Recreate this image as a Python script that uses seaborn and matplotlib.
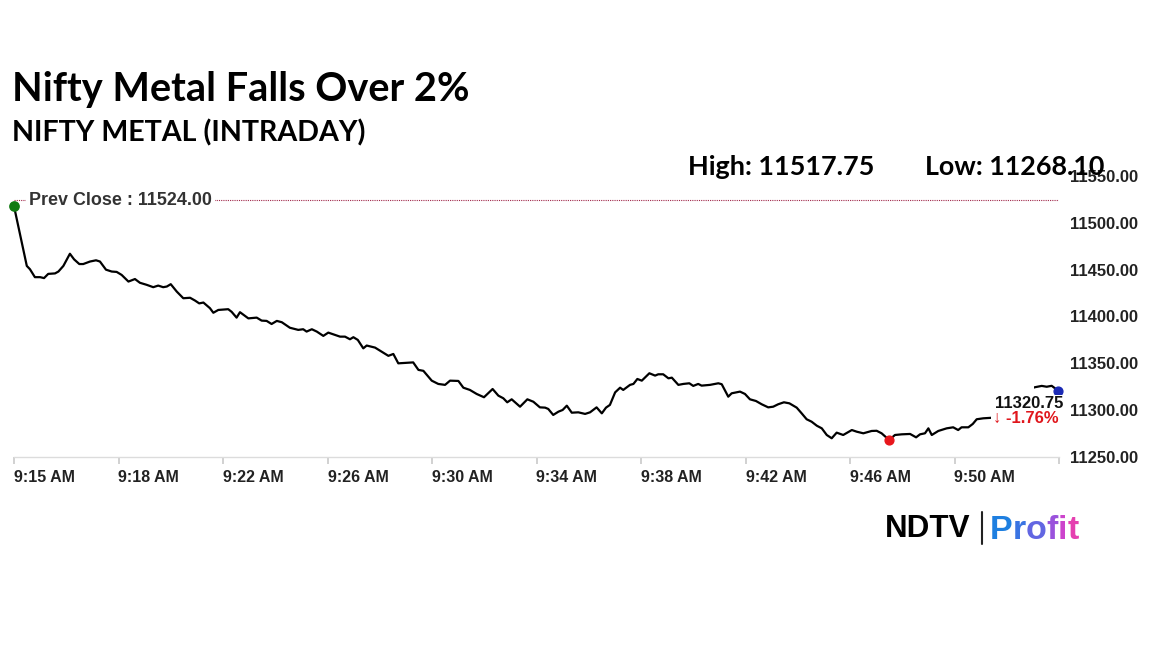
import matplotlib
matplotlib.use("Agg")
import matplotlib.pyplot as plt
import seaborn as sns
import pandas as pd
from matplotlib.patches import Rectangle
from matplotlib.transforms import IdentityTransform

# ---------------- data (minutes after 9:14 on a 4-minute tick grid) ----------------
times = [0.00, 0.49, 0.61, 0.80, 1.00, 1.15, 1.31, 1.57, 1.70, 1.89, 2.14, 2.30, 2.50, 2.65,
         2.91, 3.14, 3.29, 3.52, 3.74, 3.93, 4.12, 4.38, 4.63, 4.82, 5.08, 5.33, 5.52, 5.71,
         5.85, 6.00, 6.23, 6.48, 6.74, 6.93, 7.09, 7.25, 7.50, 7.63, 7.82, 8.20, 8.33, 8.52,
         8.65, 8.97, 9.29, 9.48, 9.67, 9.86, 10.06, 10.25, 10.56, 10.88, 11.07, 11.20, 11.40,
         11.59, 11.84, 12.03, 12.22, 12.48, 12.67, 12.86, 12.99, 13.16, 13.37, 13.50, 13.82,
         14.07, 14.33, 14.52, 14.71, 15.28, 15.48, 15.67, 15.99, 16.24, 16.50, 16.69, 17.01,
         17.20, 17.45, 17.71, 17.99, 18.32, 18.54, 18.73, 18.88, 19.05, 19.37, 19.65, 19.88,
         20.13, 20.33, 20.45, 20.64, 20.84, 21.00, 21.16, 21.35, 21.60, 21.86, 22.05, 22.30,
         22.50, 22.66, 22.81, 23.01, 23.20, 23.32, 23.58, 23.71, 23.86, 24.03, 24.32, 24.54,
         24.66, 24.85, 25.05, 25.18, 25.43, 25.62, 25.85, 26.00, 26.19, 26.32, 26.64, 26.96,
         27.09, 27.19, 27.34, 27.47, 27.79, 27.98, 28.17, 28.40, 28.62, 28.87, 29.06, 29.25,
         29.47, 29.68, 29.96, 30.15, 30.34, 30.53, 30.73, 30.92, 31.11, 31.30, 31.49, 31.74,
         32.07, 32.26, 32.51, 32.83, 33.02, 33.21, 33.50, 33.72, 33.98, 34.30, 34.53, 34.68,
         34.87, 35.00, 35.13, 35.38, 35.70, 35.95, 36.14, 36.27, 36.53, 36.70, 36.85, 37.10,
         37.49, 37.86, 38.32, 38.78, 39.08, 39.34, 39.53, 39.72, 39.97]
values = [11517.75, 11454.0, 11450.5, 11442.0, 11442.0, 11441.0, 11445.5, 11446.0, 11448.0,
          11454.0, 11467.0, 11461.0, 11456.0, 11456.0, 11458.7, 11460.0, 11458.7, 11450.0,
          11448.0, 11447.6, 11444.4, 11437.3, 11440.0, 11436.0, 11433.8, 11431.3, 11433.0,
          11431.3, 11432.0, 11434.5, 11426.6, 11419.5, 11420.0, 11417.0, 11414.0, 11414.9,
          11408.9, 11404.0, 11407.0, 11407.8, 11405.0, 11398.8, 11404.6, 11398.0, 11398.8,
          11395.6, 11395.3, 11392.0, 11395.3, 11393.9, 11388.0, 11385.7, 11386.4, 11383.9,
          11386.4, 11383.9, 11379.3, 11382.8, 11381.0, 11378.5, 11378.5, 11375.7, 11377.9,
          11375.0, 11366.0, 11369.0, 11366.8, 11362.5, 11358.0, 11360.0, 11350.0, 11351.0,
          11343.0, 11342.0, 11331.5, 11328.0, 11327.0, 11331.5, 11331.2, 11324.0, 11321.6,
          11317.3, 11313.8, 11322.6, 11315.5, 11312.7, 11308.4, 11311.6, 11303.7, 11311.6,
          11309.0, 11303.0, 11302.7, 11301.3, 11294.9, 11298.4, 11300.2, 11304.8, 11297.3,
          11297.7, 11296.0, 11297.7, 11303.0, 11296.6, 11302.7, 11305.6, 11319.0, 11324.0,
          11321.6, 11327.0, 11328.0, 11333.3, 11331.5, 11339.4, 11336.9, 11338.3, 11338.3,
          11334.0, 11334.7, 11327.0, 11328.0, 11328.7, 11325.9, 11328.0, 11326.2, 11327.0,
          11328.7, 11327.7, 11322.3, 11314.4, 11318.0, 11319.8, 11317.3, 11311.6, 11309.8,
          11306.3, 11303.0, 11303.7, 11306.3, 11308.4, 11307.3, 11302.7, 11296.6, 11290.3,
          11287.7, 11283.4, 11280.6, 11273.5, 11270.0, 11276.0, 11273.5, 11278.8, 11277.0,
          11275.3, 11277.8, 11278.0, 11275.3, 11268.10, 11273.5, 11274.2, 11274.6, 11271.0,
          11274.2, 11275.3, 11280.6, 11273.5, 11277.8, 11280.6, 11281.7, 11278.8, 11281.7,
          11281.7, 11285.3, 11290.3, 11291.3, 11292.0, 11302.0, 11314.0, 11322.0, 11324.5,
          11325.9, 11325.0, 11326.0, 11320.75]

tick_pos = [0, 4, 8, 12, 16, 20, 24, 28, 32, 36, 40]
tick_labels = ["9:15 AM", "9:18 AM", "9:22 AM", "9:26 AM", "9:30 AM", "9:34 AM",
               "9:38 AM", "9:42 AM", "9:46 AM", "9:50 AM", ""]
y_ticks = [11250, 11300, 11350, 11400, 11450, 11500, 11550]

title = "Nifty Metal Falls Over 2%"
subtitle = "NIFTY METAL (INTRADAY)"
prev_close = 11524.00
day_high = 11517.75
day_low = 11268.10
last_price = 11320.75
change_pct = -1.76

# ---------------- figure ----------------
sns.set_theme(style="white")
plt.rcParams["font.family"] = ["Liberation Sans", "DejaVu Sans"]

W, H = 1152, 648
fig = plt.figure(figsize=(W / 100, H / 100), dpi=100)
fig.patch.set_facecolor("white")
renderer = fig.canvas.get_renderer()

ax = fig.add_axes([14 / W, 1 - 457 / H, 1045 / W, 281 / H])
df = pd.DataFrame({"t": times, "v": values})
sns.lineplot(data=df, x="t", y="v", ax=ax, color="black", linewidth=1.6, sort=False)

ax.set_xlim(0, 40)
ax.set_ylim(11250, 11550)
ax.set_xlabel("")
ax.set_ylabel("")
for s in ["top", "left", "right"]:
    ax.spines[s].set_visible(False)
ax.spines["bottom"].set_color("#dcdcdc")
ax.spines["bottom"].set_linewidth(1.0)

ax.set_xticks(tick_pos)
ax.set_xticklabels(tick_labels, fontweight="bold", fontsize=11.5, color="#222222")
for lbl in ax.get_xticklabels():
    lbl.set_horizontalalignment("left")
ax.tick_params(axis="x", bottom=True, length=5, color="#cccccc", pad=4)

ax.yaxis.tick_right()
ax.set_yticks(y_ticks)
ax.set_yticklabels([f"{v:.2f}" for v in y_ticks], fontweight="bold", fontsize=12, color="#222222")
ax.tick_params(axis="y", right=False, length=0, pad=8)
ax.grid(False)

# previous close line
ax.axhline(prev_close, color="#a0284a", linestyle=(0, (1, 1)), linewidth=0.8, zorder=1)
ax.annotate(f"Prev Close : {prev_close:.2f}", xy=(0, prev_close), xytext=(15, 0),
            textcoords="offset pixels", va="center", ha="left", fontsize=12.9,
            fontweight="bold", color="#333333",
            bbox=dict(boxstyle="square,pad=0.15", fc="white", ec="none"), zorder=5)

# markers
hi_i = values.index(day_high)
lo_i = values.index(day_low)
ax.scatter([times[hi_i]], [values[hi_i]], s=45, color="#127a12", zorder=6, clip_on=False)
ax.scatter([times[lo_i]], [values[lo_i]], s=40, color="#e8161c", zorder=6, clip_on=False)
ax.scatter([times[-1]], [values[-1]], s=40, color="#1b2ab5", zorder=6, clip_on=False)

# white label background near the last price (inside the axes, above the line)
px, py = ax.transData.transform((times[-1], values[-1]))
bg = Rectangle((px - 64, py - 39), 40, 46, transform=IdentityTransform(),
               facecolor="white", edgecolor="none", zorder=4, clip_on=False)
ax.add_patch(bg)

# last price label
ax.annotate(f"{last_price:.2f}", xy=(times[-1], values[-1]), xytext=(5, -13),
            textcoords="offset pixels", ha="right", va="center", fontsize=12,
            fontweight="bold", color="#111111",
            bbox=dict(boxstyle="square,pad=0.1", fc="white", ec="none"), zorder=7,
            annotation_clip=False)
ax.annotate(f"\u2193 {change_pct:.2f}%", xy=(times[-1], values[-1]), xytext=(0, -28),
            textcoords="offset pixels", ha="right", va="center", fontsize=12,
            fontweight="bold", color="#e0161c",
            bbox=dict(boxstyle="square,pad=0.1", fc="white", ec="none"), zorder=7,
            annotation_clip=False)


def place(x, y, s, width, **kw):
    t = fig.text(x / W, 1 - y / H, s, fontsize=20, va="baseline", ha="left", **kw)
    bb = t.get_window_extent(renderer)
    t.set_fontsize(20 * width / bb.width)
    return t


place(12, 101, title, 457, family="Lato", fontweight="bold", color="black")
place(12, 141, subtitle, 354, family="Lato", fontweight="bold", color="black")
place(688, 175, f"High: {day_high:.2f}", 187, family="Lato", fontweight="bold", color="black")
place(925, 175, f"Low: {day_low:.2f}", 180, family="Lato", fontweight="bold", color="black")

# logo
place(885, 537, "NDTV", 85, family="Liberation Sans", fontweight="heavy", color="black")
fig.add_artist(plt.Line2D([982 / W, 982 / W], [1 - 512 / H, 1 - 544 / H], color="#222222", lw=1.5))
cols = ["#1e7fe0", "#3a74e2", "#6266e2", "#9a52dc", "#cc44cc", "#e540b0"]
probe = fig.text(0, 0, "Profit", fontsize=20, fontweight="bold", family="Liberation Sans")
scale = 89 / probe.get_window_extent(renderer).width
probe.remove()
x0 = 990
for ch, c in zip("Profit", cols):
    t = fig.text(x0 / W, 1 - 539 / H, ch, fontsize=20 * scale, fontweight="bold", color=c,
                 family="Liberation Sans", va="baseline", ha="left")
    x0 += t.get_window_extent(renderer).width

fig.savefig("out.png", dpi=100, facecolor="white")
